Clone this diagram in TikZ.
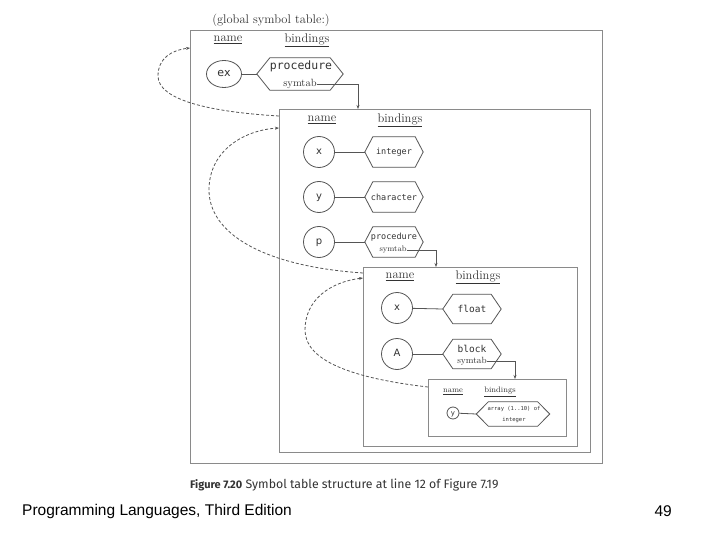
\documentclass[tikz,border=0pt]{standalone}
\usepackage{fontspec}
\setmonofont{DejaVu Sans Mono}
\newfontfamily\dvsans{DejaVu Sans}
\newfontfamily\capfont{Fira Sans}
\newfontfamily\footfont{Liberation Sans}
\usetikzlibrary{calc,shapes.geometric,arrows.meta}
\definecolor{boxgray}{HTML}{8A8A8A}
\definecolor{linegray}{HTML}{555555}
\definecolor{txt}{HTML}{333333}
\newcommand\hexnode[6]{% name, center, width, height, depth, font size
  \node[minimum width=#3, minimum height=#4, inner sep=0pt] (#1) at (#2) {};
  \draw[hexline] (#1.west) -- ($(#1.north west)+(#5,0)$) -- ($(#1.north east)+(-#5,0)$)
    -- (#1.east) -- ($(#1.south east)+(-#5,0)$) -- ($(#1.south west)+(#5,0)$) -- cycle;}
\begin{document}
\begin{tikzpicture}[x=1pt,y=-1pt,
  tbl/.style={draw=boxgray, line width=1.3pt, inner sep=0pt, anchor=north west},
  hexline/.style={draw=linegray, line width=0.8pt},
  circ/.style={draw=linegray, line width=0.8pt, circle, inner sep=0pt, text=txt, text height=1.1ex, text depth=0.15ex, font=\dvsans\fontsize{10}{10}\selectfont},
  link/.style={draw=linegray, line width=0.8pt},
  arr/.style={draw=linegray, line width=0.8pt, -{Stealth[length=4pt,width=3pt]}},
  statlink/.style={draw=linegray, line width=0.8pt, dash pattern=on 3pt off 2pt, -{Stealth[length=4pt,width=3pt]}},
  hdr/.style={text=txt, inner sep=0pt, font=\fontsize{12.5}{12.5}\selectfont},
  hdrs/.style={text=txt, inner sep=0pt, font=\fontsize{8}{8}\selectfont},
  mono/.style={text=txt, inner sep=0pt, font=\ttfamily\fontsize{8.5}{8.5}\selectfont},
  serif/.style={text=txt, inner sep=0pt, font=\fontsize{9}{9}\selectfont}]
\useasboundingbox[fill=white] (0,0) rectangle (720,540);

% boxes
\node[tbl, minimum width=412pt, minimum height=433pt] (g) at (190,30) {};
\node[tbl, minimum width=311pt, minimum height=343pt] (b2) at (279,109) {};
\node[tbl, minimum width=214pt, minimum height=179pt] (b3) at (363,267) {};
\node[tbl, minimum width=138pt, minimum height=57pt] (b4) at (428,379) {};

% global table
\node[text=txt, inner sep=0pt, font=\fontsize{12.5}{12.5}\selectfont] (gt) at (271,20) {(global symbol table:)};
\node[hdr] (gn) at (228,40) {\underline{name}};
\node[hdr] (gb) at (307,40) {\underline{bindings}};
\node[draw=linegray, line width=0.8pt, ellipse, minimum width=35pt, minimum height=27pt, inner sep=0pt, text=txt, text height=1.1ex, text depth=0.15ex, font=\dvsans\fontsize{11}{11}\selectfont] (ex) at (224,74) {ex};
\hexnode{h1}{300,74}{86pt}{32pt}{13}{}
\node[mono, font=\ttfamily\fontsize{11.5}{11.5}\selectfont] (h1a) at (301,66) {procedure};
\node[serif, font=\fontsize{10.5}{10.5}\selectfont] (h1b) at (300,84) {symtab};
\draw[link] (ex) -- (h1.west);
\coordinate (t2) at (358,109);
\draw[arr] (h1b.east) -| (t2);

% box 2
\node[hdr] (n2) at (322,120) {\underline{name}};
\node[hdr] (bd2) at (400,120) {\underline{bindings}};
\node[circ, minimum size=31pt] (x2) at (319,152) {x};
\node[circ, minimum size=31pt] (y2) at (319,197) {y};
\node[circ, minimum size=31pt] (p2) at (319,242) {p};
\hexnode{hx2}{394,152}{58pt}{30pt}{8}{}
\hexnode{hy2}{394,197}{58pt}{30pt}{8}{}
\hexnode{hp2}{394,242}{58pt}{30pt}{8}{}
\node[mono] at (394,152) {integer};
\node[mono] at (394,197) {character};
\node[mono] at (394,237) {procedure};
\node[serif, font=\fontsize{8}{8}\selectfont] (st2) at (393,250) {symtab};
\draw[link] (x2) -- (hx2.west);
\draw[link] (y2) -- (hy2.west);
\draw[link] (p2) -- (hp2.west);
\coordinate (t3) at (436,267);
\draw[arr] (st2.east) -| (t3);

% box 3
\node[hdr] (n3) at (400,277) {\underline{name}};
\node[hdr] (bd3) at (478,277) {\underline{bindings}};
\node[circ, minimum size=31pt] (x3) at (397,308) {x};
\node[circ, minimum size=31pt] (a3) at (397,354) {A};
\hexnode{hx3}{472,309}{58pt}{29pt}{10}{}
\hexnode{ha3}{472,354}{58pt}{29pt}{10}{}
\node[mono, font=\ttfamily\fontsize{9.5}{9.5}\selectfont] at (472,309) {float};
\node[mono, font=\ttfamily\fontsize{9.5}{9.5}\selectfont] at (472,349) {block};
\node[serif, font=\fontsize{9}{9}\selectfont] (st3) at (472,361) {symtab};
\draw[link] (x3) -- (hx3.west);
\draw[link] (a3) -- (ha3.west);
\coordinate (t4) at (515,379);
\draw[arr] (st3.east) -| (t4);

% box 4
\node[hdrs] (n4) at (453,392) {\underline{name}};
\node[hdrs] (bd4) at (500,392) {\underline{bindings}};
\node[circ, minimum size=12pt, font=\dvsans\fontsize{7}{7}\selectfont] (y4) at (453,413) {y};
\hexnode{hy4}{513,414}{73pt}{24pt}{12}{}
\node[mono, font=\ttfamily\fontsize{5.5}{5.5}\selectfont] at (514,409) {array (1..10) of};
\node[mono, font=\ttfamily\fontsize{5.5}{5.5}\selectfont] at (514,420) {integer};
\draw[link] (y4) -- (hy4.west);

% static links
\draw[statlink] ($(b2.north west)+(0,7)$) .. controls (210,112) and (158,100) .. (158,76)
   .. controls (158,58) and (172,50) .. ($(g.north west)+(0,18)$);
\draw[statlink] ($(b3.north west)+(0,6)$) .. controls (260,266) and (209,232) .. (209,190)
   .. controls (209,150) and (245,130) .. ($(b2.north west)+(0,19)$);
\draw[statlink] ($(b4.north west)+(0,8)$) .. controls (350,378) and (305,360) .. (305,330)
   .. controls (305,300) and (330,282) .. ($(b3.north west)+(0,11)$);

% caption and footer
\node[anchor=west, inner sep=0pt, text=txt, font=\capfont\fontsize{12.3}{12.3}\selectfont] (cap) at (190,485)
  {{\bfseries\fontsize{11}{11}\selectfont Figure 7.20} Symbol table structure at line 12 of Figure 7.19};
\node[anchor=west, inner sep=0pt, font=\footfont\fontsize{15.5}{15.5}\selectfont] (foot) at (22,511) {Programming Languages, Third Edition};
\node[anchor=east, inner sep=0pt, font=\footfont\fontsize{15.5}{15.5}\selectfont] (pg) at (672,511) {49};
\end{tikzpicture}
\end{document}
